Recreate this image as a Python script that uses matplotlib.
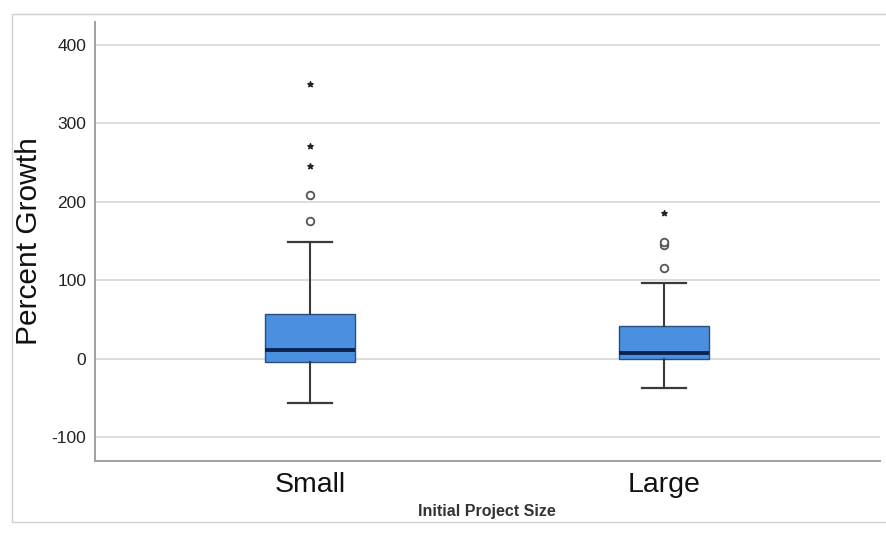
import matplotlib
matplotlib.use("Agg")

import matplotlib.pyplot as plt
import matplotlib.patches as mpatches

# ── Data ──────────────────────────────────────────────────────── #
groups       = ["Small", "Large"]
q1           = [-4, -1]
medians      = [11, 7]
q3           = [57, 42]
whisker_low  = [-57, -38]
whisker_high = [148, 96]
outliers     = [[176, 208], [115, 145, 148]]      # circles
extremes     = [[246, 271, 350], [186]]           # stars

# ── Style ─────────────────────────────────────────────────────── #
BOX_FILL   = "#4a8fe0"
BOX_EDGE   = "#2b4e80"
MEDIAN_CLR = "#0b2350"
LINE_CLR   = "#3a3a3a"
GRID_CLR   = "#d6d6d6"
AXIS_CLR   = "#a0a0a0"

plt.rcParams["font.family"] = ["Liberation Sans", "DejaVu Sans"]
plt.rcParams["axes.unicode_minus"] = False

fig = plt.figure(figsize=(8.86, 5.35), dpi=100, facecolor="white")
ax = fig.add_axes([0.107, 0.138, 0.886, 0.821])

stats = []
for i, g in enumerate(groups):
    stats.append(dict(label=g, q1=q1[i], med=medians[i], q3=q3[i],
                      whislo=whisker_low[i], whishi=whisker_high[i],
                      fliers=[]))

ax.bxp(stats, positions=[1, 2], widths=0.254, capwidths=0.124,
       patch_artist=True, showfliers=False,
       boxprops=dict(facecolor=BOX_FILL, edgecolor=BOX_EDGE, linewidth=1.0),
       medianprops=dict(color=MEDIAN_CLR, linewidth=2.8),
       whiskerprops=dict(color=LINE_CLR, linewidth=1.5),
       capprops=dict(color=LINE_CLR, linewidth=1.6))

for i in range(len(groups)):
    pos = i + 1
    ax.scatter([pos] * len(outliers[i]), outliers[i], s=30, facecolor="white",
               edgecolor="#555555", linewidth=1.3, zorder=4)
    ax.scatter([pos] * len(extremes[i]), extremes[i], s=16, marker="*",
               color="#222222", zorder=4)

ax.set_xlim(0.392, 2.609)
ax.set_ylim(-130.6, 429)
ax.set_yticks([-100, 0, 100, 200, 300, 400])
ax.yaxis.grid(True, color=GRID_CLR, linewidth=1.2)
ax.set_axisbelow(True)

for side in ("top", "right"):
    ax.spines[side].set_visible(False)
for side in ("left", "bottom"):
    ax.spines[side].set_color(AXIS_CLR)
    ax.spines[side].set_linewidth(1.4)

ax.tick_params(axis="y", length=0, pad=6, labelsize=12.5, labelcolor="#222222")
ax.tick_params(axis="x", length=0, pad=8, labelsize=20.5, labelcolor="#111111")
ax.set_xticks([1, 2])
ax.set_xticklabels(groups)

ax.set_ylabel("Percent Growth", fontsize=21.5, color="#111111", labelpad=6)
ax.set_xlabel("Initial Project Size", fontsize=11.5, fontweight="bold",
              color="#333333", labelpad=4)

# outer frame of the chart object
frame = mpatches.Rectangle((12 / 886, 1 - 522 / 535), 1.0, (522 - 14) / 535,
                           transform=fig.transFigure, fill=False,
                           edgecolor="#d0d0d0", linewidth=1.0)
fig.patches.append(frame)

fig.savefig("out.png", dpi=100, facecolor="white")
